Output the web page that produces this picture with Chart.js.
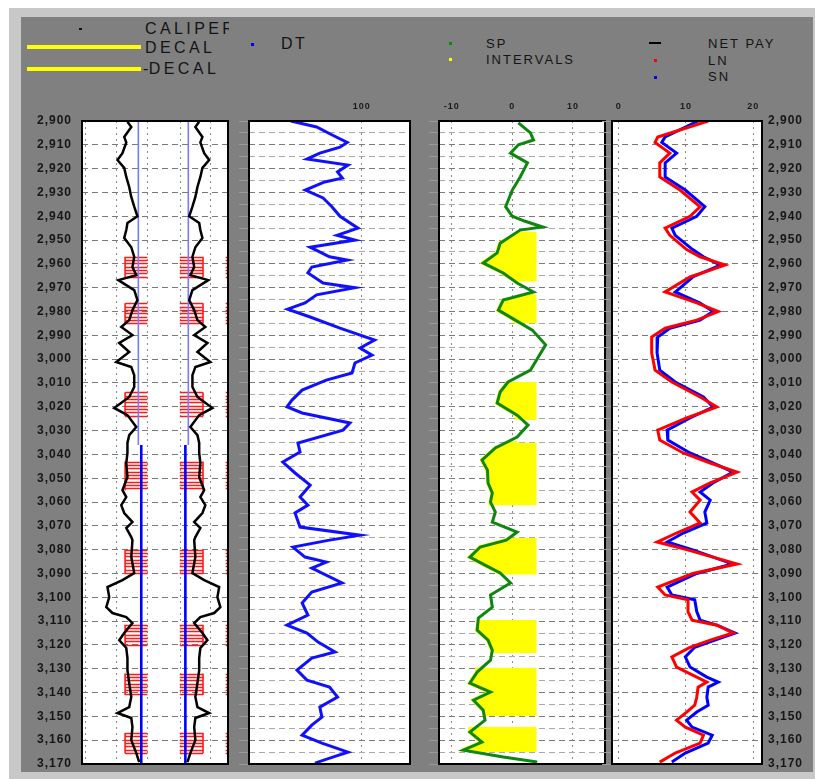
<!DOCTYPE html>
<html lang="en">
<head>
<meta charset="UTF-8">
<title>Well log</title>
<script src="https://cdn.jsdelivr.net/npm/chart.js"></script>
<style>
  body { margin: 0; background: #fff; font-family: "Liberation Sans", Arial, sans-serif; overflow: hidden; }
  #frame { position: absolute; left: 9px; top: 8px; width: 806px; height: 771px; background: #c8c8c8; }
  #panel { position: absolute; left: 21px; top: 17px; width: 792px; height: 755px; background: #808080; }
  .track { position: absolute; top: 95px; height: 687px; }
  .lg { position: absolute; color: #141414; white-space: nowrap; }
  .big { font-size: 16px; line-height: 16px; letter-spacing: 3.4px; }
  .small { font-size: 13px; line-height: 13px; letter-spacing: 2px; }
  .mark { position: absolute; }
  #clip { position: absolute; left: 21px; top: 17px; width: 208px; height: 72px; overflow: hidden; }
</style>
</head>
<body>
<div id="frame"></div>
<div id="panel"></div>

<!-- legend -->
<div class="mark" style="left:79px;top:28px;width:3px;height:2px;background:#111"></div>
<div id="clip">
  <div class="lg big" style="left:124px;top:4px">CALIPER</div>
  <div class="mark" style="left:6px;top:28px;width:114px;height:4px;background:#ffff00"></div>
  <div class="lg big" style="left:124px;top:23px">DECAL</div>
  <div class="mark" style="left:6px;top:50px;width:114px;height:4px;background:#ffff00"></div>
  <div class="lg big" style="left:122px;top:44px"><span style="letter-spacing:0.5px">-</span>DECAL</div>
</div>
<div class="mark" style="left:251px;top:43px;width:3px;height:3px;background:#0000ff"></div>
<div class="lg big" style="left:281px;top:36px;letter-spacing:2.5px">DT</div>
<div class="mark" style="left:449px;top:42px;width:3px;height:3px;background:#0a8a0a"></div>
<div class="lg small" style="left:486px;top:37px">SP</div>
<div class="mark" style="left:449px;top:58px;width:3px;height:3px;background:#ffff00"></div>
<div class="lg small" style="left:486px;top:53px">INTERVALS</div>
<div class="mark" style="left:649px;top:42px;width:12px;height:2px;background:#000"></div>
<div class="lg small" style="left:708px;top:37px">NET PAY</div>
<div class="mark" style="left:654px;top:59px;width:3px;height:3px;background:#ff0000"></div>
<div class="lg small" style="left:708px;top:54px">LN</div>
<div class="mark" style="left:654px;top:76px;width:3px;height:3px;background:#0000ff"></div>
<div class="lg small" style="left:708px;top:70px">SN</div>

<div class="track" style="left:10px;width:222px"><canvas id="trk1"></canvas></div>
<div class="track" style="left:235px;width:179px"><canvas id="trk2"></canvas></div>
<div class="track" style="left:425px;width:184px"><canvas id="trk3"></canvas></div>
<div class="track" style="left:598px;width:217px"><canvas id="trk4"></canvas></div>

<script>
// depth range (ft)
const DEPTH_TOP = 2900;
const DEPTH_BOTTOM = 3170;

// track 1: caliper (hole diameter, in), bit size, net pay
const calDepth = [2900.3, 2902.5, 2906.7, 2909, 2913.5, 2916.4, 2919.7, 2923.5, 2927.7, 2931.9,
  2936, 2940, 2942.8, 2945.8, 2949.1, 2953, 2957, 2961.3, 2964.7, 2966.8,
  2971, 2975.2, 2979.4, 2983.6, 2986.5, 2989.9, 2993.2, 2997, 3001.2, 3003.3,
  3006.7, 3011.7, 3015.9, 3020.5, 3023.5, 3028.5, 3031.9, 3035.2, 3039.4, 3043.6,
  3049.5, 3055, 3057.9, 3061.3, 3064.6, 3068.4, 3070.9, 3074.7, 3076, 3083.1,
  3089.8, 3092.8, 3095.7, 3099.9, 3104.1, 3106.6, 3108.3, 3110.8, 3115, 3118,
  3121.3, 3125.5, 3130.6, 3136, 3141.9, 3146.1, 3148.6, 3150.7, 3154.5, 3160,
  3165.4, 3169.2];
const calInches = [12.2, 10.9, 13.3, 12.6, 13.9, 15.6, 13.3, 12.6, 11.6, 10.9,
  9.9, 8.8, 12.2, 12.6, 13.3, 10.9, 9.9, 10.5, 9.2, 15.3,
  9.9, 8.8, 10.5, 11.6, 14.3, 10.5, 15.0, 11.6, 16.0, 10.9,
  9.9, 9.9, 11.6, 16.7, 12.2, 9.2, 11.6, 12.2, 12.2, 12.6,
  12.2, 13.9, 12.6, 14.3, 13.3, 10.5, 12.6, 10.9, 10.5, 10.9,
  9.9, 13.9, 19.0, 18.4, 19.4, 17.3, 12.6, 10.5, 13.3, 15.0,
  12.6, 12.2, 12.2, 11.6, 10.9, 11.6, 15.6, 10.9, 10.5, 10.9,
  9.2, 8.2];
const bitTop = [2900, 3036];
const bitBottom = [3036, 3170];
const bitSize = [8.5, 7.5];
const payTop = [2957, 2976.5, 3014, 3043, 3080, 3111.5, 3132, 3157];
const payBottom = [2965.5, 2985, 3024, 3055, 3090, 3120, 3141, 3165.5];

// track 2: sonic DT
const dtDepth = [2900, 2902.5, 2906, 2909, 2911, 2913.5, 2916, 2918.5, 2921.4, 2924,
  2925.6, 2929, 2932.3, 2936, 2940, 2945, 2948, 2950, 2953, 2957,
  2958.4, 2961.3, 2963.8, 2968, 2970, 2973, 2976.4, 2979, 2982.3, 2987,
  2992, 2995.3, 2998.3, 3001.6, 3005.8, 3008.8, 3013, 3017.2, 3020, 3022.6,
  3026.8, 3029.8, 3035.2, 3039, 3043.2, 3047.8, 3052.9, 3057.9, 3061.3, 3064.6,
  3070.5, 3073.9, 3076, 3078.9, 3083.1, 3085.2, 3087.7, 3094, 3097.8, 3102.4,
  3107.5, 3111.7, 3115, 3118.8, 3123, 3125.5, 3130.6, 3134.8, 3137.7, 3141.9,
  3146.1, 3150.3, 3153.7, 3157.9, 3161.2, 3165, 3167.1, 3169.6];
const dtValue = [56, 72, 82, 91, 86.5, 74, 66, 91.5, 85, 88,
  77, 65, 76, 81.5, 86.5, 97.7, 84.7, 95.8, 68, 80,
  91, 69, 66.6, 76, 95.8, 72, 64.8, 54, 68, 86.5,
  108, 99, 106.4, 95.8, 94, 78, 63, 56.7, 53.6, 63,
  92.7, 88.4, 60.4, 61.7, 51, 58.6, 68, 61.7, 66.6, 58.6,
  61.7, 99, 80, 57.3, 64.8, 78, 69, 87.8, 69, 63,
  66.6, 53.6, 66, 72.9, 83.4, 69, 59.8, 66, 80, 85,
  74, 75.3, 69, 63, 75.3, 91.5, 82, 71];

// track 3: SP and intervals
const spDepth = [2900.8, 2905, 2908, 2910, 2913.5, 2917.6, 2923.5, 2929, 2936, 2940,
  2942, 2944.5, 2945.8, 2951.3, 2955.4, 2959.6, 2963.8, 2968, 2971.8, 2975.2,
  2979.4, 2983.6, 2987.8, 2994, 2999.1, 3004.6, 3009.6, 3013.8, 3018.4, 3023.5,
  3027.7, 3032.7, 3037.3, 3042.4, 3046.6, 3052, 3056.2, 3060, 3064.2, 3068.4,
  3072.6, 3076, 3078.9, 3083.1, 3086.5, 3089.8, 3094, 3099, 3104.1, 3108.7,
  3113.8, 3118, 3122.2, 3126.4, 3131.4, 3136, 3139.8, 3143.2, 3147.4, 3151.6,
  3156.6, 3160.8, 3164.2, 3167.1, 3169.2];
const spValue = [1.0, 3.0, 3.5, 1.0, -0.3, 2.5, 1.3, 0, -1.1, 0,
  2.0, 5.0, 1.3, -2.0, -2.5, -4.8, -1.5, 0.8, 3.5, -1.5,
  -2.3, 0.5, 3.3, 5.5, 4.3, 3.0, -0.7, -2.0, -2.5, 0.8,
  2.6, 0.8, -2.8, -5.0, -4.1, -4.0, -3.3, -3.6, -2.8, -3.3,
  0.8, -1.0, -5.3, -7.0, -4.5, -2.0, -0.3, -3.6, -3.3, -5.6,
  -5.8, -4.0, -3.3, -3.6, -5.8, -7.0, -3.6, -6.4, -4.8, -4.5,
  -7.0, -5.0, -8.1, -1.5, 4.1];
const intervalTop = [2946.5, 2973, 3009.5, 3035, 3075, 3109.5, 3129.5, 3154.5];
const intervalBottom = [2967.5, 2985, 3025.5, 3061.5, 3090.5, 3123.5, 3150, 3165];
const SHALE_LINE = 4;

// track 4: resistivity LN / SN
const resDepth = [2900, 2906.7, 2909, 2913.5, 2917.6, 2923.5, 2929, 2936, 2940, 2945,
  2948, 2954, 2957, 2960.5, 2965.5, 2971.8, 2976.4, 2980, 2983.6, 2987,
  2990.7, 2997.4, 3004.6, 3009.6, 3015.9, 3020.1, 3024.7, 3029.8, 3034, 3039.4,
  3043.6, 3047.4, 3052, 3055.8, 3059.2, 3064.2, 3068.8, 3073, 3076.8, 3080,
  3086, 3090, 3095.7, 3099, 3101, 3106, 3109.6, 3111.7, 3115, 3118,
  3121, 3125, 3129.3, 3133.5, 3135.6, 3137.7, 3142, 3145.3, 3148.2, 3151.6,
  3154.5, 3157.9, 3161.2, 3165.4, 3169.2];
const lnValue = [13.3, 5.8, 5.4, 7.6, 6.1, 6.1, 9.1, 12.1, 10.6, 6.9,
  7.6, 10.1, 12.1, 15.8, 10.6, 6.9, 11.6, 14.8, 11.6, 6.9,
  4.9, 4.9, 5.4, 7.9, 12.1, 14.6, 10.1, 5.8, 6.1, 9.6,
  13.6, 17.6, 13.6, 10.9, 12.1, 10.6, 12.1, 8.6, 5.7, 10.1,
  17.6, 11.0, 5.8, 6.9, 10.3, 10.3, 10.9, 14.6, 17.0, 13.6,
  10.6, 7.9, 8.6, 11.6, 13.1, 11.8, 11.6, 11.3, 10.1, 8.6,
  9.9, 12.6, 12.1, 8.4, 6.1];
const snValue = [11.8, 6.9, 6.4, 8.6, 6.9, 6.9, 9.9, 12.8, 11.6, 7.9,
  8.4, 11.0, 12.6, 15.1, 11.0, 8.4, 12.1, 14.0, 12.1, 7.6,
  5.8, 5.7, 6.1, 8.4, 12.6, 14.0, 10.6, 7.2, 7.3, 10.6,
  14.0, 17.0, 14.0, 12.1, 13.6, 12.8, 13.1, 9.6, 7.2, 10.9,
  16.9, 11.6, 7.2, 7.9, 11.3, 11.6, 12.1, 14.6, 17.3, 14.3,
  11.3, 9.9, 10.6, 13.1, 14.8, 13.3, 13.1, 13.3, 11.6, 10.1,
  10.9, 13.9, 13.3, 9.9, 7.9];

Chart.defaults.font.family = '"Liberation Sans", Arial, sans-serif';
Chart.defaults.color = '#1a1a1a';

const pts = (depths, vals, f = v => v) => depths.map((d, i) => ({ x: f(vals[i]), y: d }));

// white track background + black frame, letter spacing for labels
const framePlugin = {
  id: 'frame',
  beforeDraw(chart) {
    const { ctx, chartArea: a } = chart;
    ctx.save();
    ctx.fillStyle = '#ffffff';
    ctx.fillRect(a.left, a.top, a.width, a.height);
    ctx.restore();
    ctx.letterSpacing = '1px';
  },
  afterDraw(chart) {
    const { ctx, chartArea: a } = chart;
    ctx.save();
    ctx.strokeStyle = '#000';
    ctx.lineWidth = 2;
    ctx.strokeRect(a.left, a.top, a.width, a.height);
    ctx.restore();
  }
};

// red hatching of net pay on the caliper track
const HATCH_SPANS = [[-6.5, -2.7], [2.8, 6.75], [10.6, 11.2]];
const hatchPlugin = {
  id: 'hatch',
  beforeDatasetsDraw(chart) {
    const { ctx, chartArea: a, scales: { x, y } } = chart;
    ctx.save();
    ctx.beginPath();
    ctx.rect(a.left, a.top, a.width, a.height);
    ctx.clip();
    ctx.strokeStyle = '#ff1a1a';
    ctx.lineWidth = 1.6;
    ctx.beginPath();
    payTop.forEach((top, i) => {
      for (let d = top; d <= payBottom[i] + 0.01; d += 1.4) {
        const py = Math.round(y.getPixelForValue(d)) + 0.5;
        HATCH_SPANS.forEach(([l, r]) => {
          ctx.moveTo(x.getPixelForValue(l), py);
          ctx.lineTo(x.getPixelForValue(r), py);
        });
      }
      HATCH_SPANS.slice(0, 2).forEach(([l, r]) => {
        const ex = Math.abs(l) > Math.abs(r) ? l : r;
        ctx.moveTo(x.getPixelForValue(ex), y.getPixelForValue(top));
        ctx.lineTo(x.getPixelForValue(ex), y.getPixelForValue(payBottom[i]));
      });
    });
    ctx.stroke();
    ctx.restore();
  }
};

const hGridColor = five => ctx => ctx.tick.value % 10 === 0 ? '#7a7a7a' : (five ? '#a9a9a9' : 'transparent');

function depthAxis(extra) {
  return Object.assign({
    type: 'linear', reverse: true, min: DEPTH_TOP, max: DEPTH_BOTTOM,
    border: { display: false, dash: [6, 4] }
  }, extra);
}

function leftTickAxis(five) {
  return depthAxis({
    position: 'left',
    afterFit: s => { s.width = 14; },
    ticks: { display: false, stepSize: 5, autoSkip: false },
    grid: { color: hGridColor(five), tickColor: '#9a9a9a', tickLength: 10 }
  });
}

function topAxis(min, max, ticks, showLabels) {
  return {
    type: 'linear', position: 'top', min, max,
    afterBuildTicks: s => { s.ticks = ticks.map(v => ({ value: v })); },
    afterFit: s => { s.height = 26; },
    ticks: { display: showLabels, padding: 9, color: '#1a1a1a', font: { size: 9, weight: 'bold' } },
    grid: { color: '#8a8a8a', drawTicks: false },
    border: { display: false, dash: [2, 4] }
  };
}

const depthLabels = {
  stepSize: 10, autoSkip: false, color: '#161616',
  font: { size: 12, weight: 'bold' },
  callback: v => v.toLocaleString('en-US')
};

const PAD = { left: 0, top: 0, right: 4, bottom: 18 };

function makeTrack(id, datasets, scales, padding, extraPlugins) {
  return new Chart(document.getElementById(id), {
    type: 'line',
    data: { datasets },
    options: {
      indexAxis: 'y',
      animation: false,
      responsive: true,
      maintainAspectRatio: false,
      devicePixelRatio: 1,
      layout: { padding },
      plugins: { legend: { display: false }, tooltip: { enabled: false } },
      elements: { point: { radius: 0 }, line: { tension: 0 } },
      scales
    },
    plugins: [framePlugin].concat(extraPlugins || [])
  });
}

// track 1
const calDatasets = [
  { data: pts(calDepth, calInches, v => -v / 2), borderColor: '#000', borderWidth: 2.5 },
  { data: pts(calDepth, calInches, v => v / 2), borderColor: '#000', borderWidth: 2.5 }
];
bitSize.forEach((b, i) => {
  [-1, 1].forEach(side => {
    calDatasets.push({
      data: [{ x: side * b / 2, y: bitTop[i] }, { x: side * b / 2, y: bitBottom[i] }],
      borderColor: i === 0 ? '#7a7aff' : '#0000ff',
      borderWidth: i === 0 ? 1.6 : 2.6
    });
  });
});
makeTrack('trk1', calDatasets, {
  x: topAxis(-13.83, 11.0, [-13.2, -8, -2.7, 2.9, 8.1], false),
  y: depthAxis({
    position: 'left',
    afterFit: s => { s.width = 72; },
    ticks: Object.assign({ padding: 10 }, depthLabels),
    grid: { color: '#7a7a7a', drawTicks: false }
  })
}, PAD, [hatchPlugin]);

// track 2
makeTrack('trk2', [
  { data: pts(dtDepth, dtValue), borderColor: '#1010ff', borderWidth: 3 }
], {
  x: topAxis(30, 130, [100], true),
  y: leftTickAxis(true)
}, PAD);

// track 3
const nearestSp = d => {
  let best = 0;
  spDepth.forEach((s, i) => { if (Math.abs(s - d) < Math.abs(spDepth[best] - d)) best = i; });
  return spValue[best];
};
const spDatasets = [
  { data: pts(spDepth, spValue), borderColor: '#0d870d', borderWidth: 3 }
];
intervalTop.forEach((top, i) => {
  const bot = intervalBottom[i];
  const inside = pts(spDepth, spValue).filter(p => p.y > top && p.y < bot);
  spDatasets.push({
    data: [{ x: nearestSp(top), y: top }, ...inside, { x: nearestSp(bot), y: bot }],
    borderColor: '#ffff00',
    borderWidth: 4,
    backgroundColor: '#ffff00',
    fill: { value: SHALE_LINE }
  });
});
makeTrack('trk3', spDatasets, {
  x: topAxis(-12.1, 15.3, [-10, 0, 10], true),
  y: leftTickAxis(true)
}, PAD);

// track 4
makeTrack('trk4', [
  { data: pts(resDepth, lnValue), borderColor: '#ff0000', borderWidth: 3, yAxisID: 'y' },
  { data: pts(resDepth, snValue), borderColor: '#0000ff', borderWidth: 3, yAxisID: 'y' }
], {
  x: topAxis(-1.0, 21.3, [0, 10, 20], true),
  y: leftTickAxis(false),
  yr: depthAxis({
    position: 'right',
    afterFit: s => { s.width = 53; },
    ticks: Object.assign({ padding: 6 }, depthLabels),
    grid: { drawOnChartArea: false, drawTicks: false }
  })
}, { left: 0, top: 0, right: 0, bottom: 18 });
</script>
</body>
</html>
